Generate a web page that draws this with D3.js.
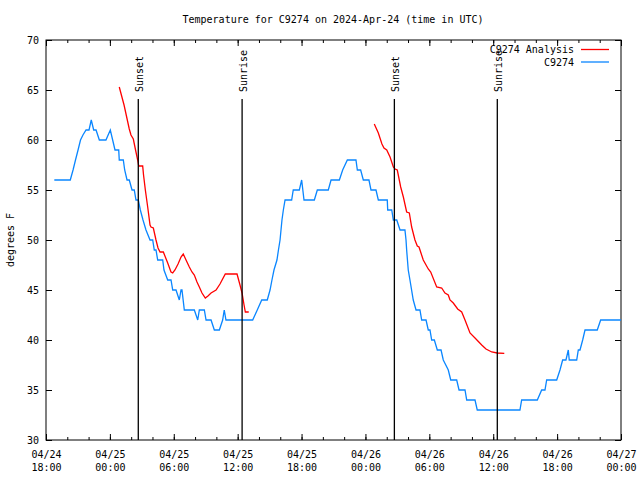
<!DOCTYPE html>
<html><head><meta charset="utf-8">
<script src="https://cdn.jsdelivr.net/npm/d3@7"></script>
<style>body{margin:0;background:#fff}svg{display:block}text{font-family:"DejaVu Sans Mono",monospace;font-size:10px;fill:#000}</style>
</head><body>
<svg id="c" width="640" height="480"></svg>
<script>
// hours since 2024-04-24 18:00 UTC
const startTime = "2024-04-24T18:00Z";
const endTime = "2024-04-27T00:00Z";
const stationHours = [0.78,2.28,2.54,2.77,3.01,3.24,3.47,3.76,4.04,4.25,4.48,4.70,5.01,5.63,6.04,6.26,6.48,6.83,6.88,7.26,7.39,7.61,7.82,8.08,8.29,8.45,8.67,8.86,9.11,9.39,9.77,10.02,10.17,10.33,10.49,10.96,11.08,11.43,11.74,11.90,12.21,12.52,12.68,12.77,12.99,13.93,14.25,14.40,14.87,15.03,15.50,15.81,16.28,16.59,16.74,16.90,19.41,19.84,20.26,20.78,21.04,21.22,21.41,21.69,21.83,21.98,22.16,22.29,22.45,23.07,23.22,23.79,24.01,24.23,25.20,25.48,26.51,26.77,27.55,27.86,28.30,29.11,29.24,29.55,29.80,30.33,30.52,30.99,31.21,32.05,32.09,32.47,32.62,32.94,33.25,33.71,33.81,33.87,34.02,34.18,34.49,34.75,35.12,35.28,35.69,35.90,36.06,36.22,36.47,36.75,37.10,37.31,37.78,38.01,38.57,38.79,39.35,39.51,40.29,40.50,44.51,44.67,46.14,46.55,46.86,47.02,47.96,48.27,48.52,48.83,49.05,49.14,49.84,49.99,50.15,50.40,50.62,51.77,52.09,54.00];
const stationTemps = [56,56,57,58,59,60,60.5,61,61,62,61,61,60,60,61,60,59,59,58,58,57,56,56,55,55,54,54,53,52,51,50,50,49,49,48,48,47,46,46,45,45,44,45,45,43,43,42,43,43,42,42,41,41,42,43,42,42,43,44,44,45,46,47,48,49,50,52,53,54,54,55,55,56,54,54,55,55,56,56,57,58,58,57,57,56,56,55,55,54,54,53,53,52,52,51,51,50,49,47,46,44,43,43,42,42,41,41,40,40,39,39,38,37,36,36,35,35,34,34,33,33,34,34,35,35,36,36,37,38,38,39,38,38,39,39,40,41,41,42,42];
const analysis1Hours = [6.88,7.33,7.82,7.98,8.20,8.41,8.61,8.71,9.08,9.16,9.33,9.55,9.77,9.86,10.08,10.33,10.52,10.71,11.02,11.43,11.74,11.90,12.11,12.40,12.68,12.89,13.15,13.46,13.71,13.93,14.18,14.40,14.65,14.96,15.21,15.50,15.97,16.34,16.84,17.94,18.22,18.41,18.60,18.72,19.04];
const analysis1Temps = [65.3,63.5,61.1,60.5,60.1,59,58,57.4,57.4,56.5,55,53.3,51.5,51.3,51.2,50,49.2,48.8,48.8,47.7,46.8,46.7,47,47.6,48.3,48.6,48,47.3,46.8,46.5,45.8,45.3,44.7,44.2,44.4,44.7,45,45.6,46.6,46.6,45.5,44.7,43.5,42.8,42.8];
const analysis2Hours = [30.83,31.21,31.55,31.74,32.00,32.31,32.62,32.78,32.99,33.31,33.56,33.87,34.12,34.34,34.65,34.87,35.03,35.43,35.90,36.13,36.69,37.16,37.47,37.78,37.94,38.25,38.66,39.04,39.35,39.82,40.29,40.92,41.32,41.86,42.38,43.04];
const analysis2Temps = [61.6,60.7,59.6,59.2,59,58.3,57.3,57.1,57,55.3,54.3,52.8,52.7,51.3,50,49.4,49.3,48,47.1,46.8,45.3,45.2,44.7,44.5,44,43.7,43.1,42.8,42,40.7,40.2,39.5,39.1,38.8,38.7,38.67];
const eventTimes = ["2024-04-25T02:40Z","2024-04-25T12:25Z","2024-04-26T02:43Z","2024-04-26T12:23Z"];
const eventLabels = ["Sunset","Sunrise","Sunset","Sunrise"];
const yTicks = [30,35,40,45,50,55,60,65,70];
const seriesNames = ["C9274 Analysis","C9274"];
const seriesColors = ["#ff0000","#0a86ff"];
const titleText = "Temperature for C9274 on 2024-Apr-24 (time in UTC)";
const yLabel = "degrees F";

const L=46,R=621,T=40,B=440;
const base = new Date(startTime);
const toDate = h => new Date(base.getTime()+h*3600000);
const x = d3.scaleUtc().domain([base,new Date(endTime)]).range([L,R]);
const y = d3.scaleLinear().domain([30,70]).range([B,T]);
const svg = d3.select("#c");

svg.append("text").attr("x",333).attr("y",23).attr("text-anchor","middle").text(titleText);
svg.append("text").attr("transform","translate(14,240) rotate(-90)").attr("text-anchor","middle").text(yLabel);

// minor ticks
const minor = d3.utcHour.every(2);
svg.append("g").attr("transform",`translate(0,${B})`).call(d3.axisBottom(x).ticks(minor).tickSize(-3).tickFormat("")).call(g=>g.select(".domain").remove());
svg.append("g").attr("transform",`translate(0,${T})`).call(d3.axisTop(x).ticks(minor).tickSize(-3).tickFormat("")).call(g=>g.select(".domain").remove());
// major ticks
const major = d3.utcHour.every(6);
const fmtD = d3.utcFormat("%m/%d"), fmtH = d3.utcFormat("%H:%M");
const gx = svg.append("g").attr("transform",`translate(0,${B})`).call(d3.axisBottom(x).ticks(major).tickSize(-6).tickFormat(""));
gx.select(".domain").remove();
gx.selectAll(".tick").each(function(d){
  const t=d3.select(this);
  t.selectAll("text").remove();
  t.append("text").attr("x",0).attr("y",18).attr("text-anchor","middle").text(fmtD(d));
  t.append("text").attr("x",0).attr("y",31).attr("text-anchor","middle").text(fmtH(d));
});
svg.append("g").attr("transform",`translate(0,${T})`).call(d3.axisTop(x).ticks(major).tickSize(-6).tickFormat("")).call(g=>g.select(".domain").remove());
const gy = svg.append("g").attr("transform",`translate(${L},0)`).call(d3.axisLeft(y).tickValues(yTicks).tickSize(-6).tickPadding(7));
gy.select(".domain").remove();
svg.append("g").attr("transform",`translate(${R},0)`).call(d3.axisRight(y).tickValues(yTicks).tickSize(-6).tickFormat("")).call(g=>g.select(".domain").remove());
svg.selectAll(".tick text").attr("font-family",null).attr("font-size",null);
svg.selectAll(".tick line").attr("stroke","#000");

svg.append("rect").attr("x",L).attr("y",T).attr("width",R-L).attr("height",B-T).attr("fill","none").attr("stroke","#000").attr("stroke-width",1);

const line = d3.line().x(d=>x(d[0])).y(d=>y(d[1]));
const mk = (hs,vs)=>hs.map((h,i)=>[toDate(h),vs[i]]);
svg.append("path").datum(mk(analysis1Hours,analysis1Temps)).attr("d",line).attr("fill","none").attr("stroke",seriesColors[0]).attr("stroke-width",1.3);
svg.append("path").datum(mk(analysis2Hours,analysis2Temps)).attr("d",line).attr("fill","none").attr("stroke",seriesColors[0]).attr("stroke-width",1.3);
svg.append("path").datum(mk(stationHours,stationTemps)).attr("d",line).attr("fill","none").attr("stroke",seriesColors[1]).attr("stroke-width",1.3);

// sun events
eventTimes.forEach((t,i)=>{
  const ex = x(new Date(t));
  svg.append("line").attr("x1",ex).attr("x2",ex).attr("y1",99).attr("y2",B).attr("stroke","#000").attr("stroke-width",1.3);
  svg.append("text").attr("transform",`translate(${ex+5},92) rotate(-90)`).attr("text-anchor","start").text(eventLabels[i]);
});

// legend
seriesNames.forEach((n,i)=>{
  const ly = 49.5+i*12.5;
  svg.append("text").attr("x",574).attr("y",ly+3.5).attr("text-anchor","end").text(n);
  svg.append("line").attr("x1",581).attr("x2",609).attr("y1",ly).attr("y2",ly).attr("stroke",seriesColors[i]).attr("stroke-width",1.3);
});
</script>
</body></html>
